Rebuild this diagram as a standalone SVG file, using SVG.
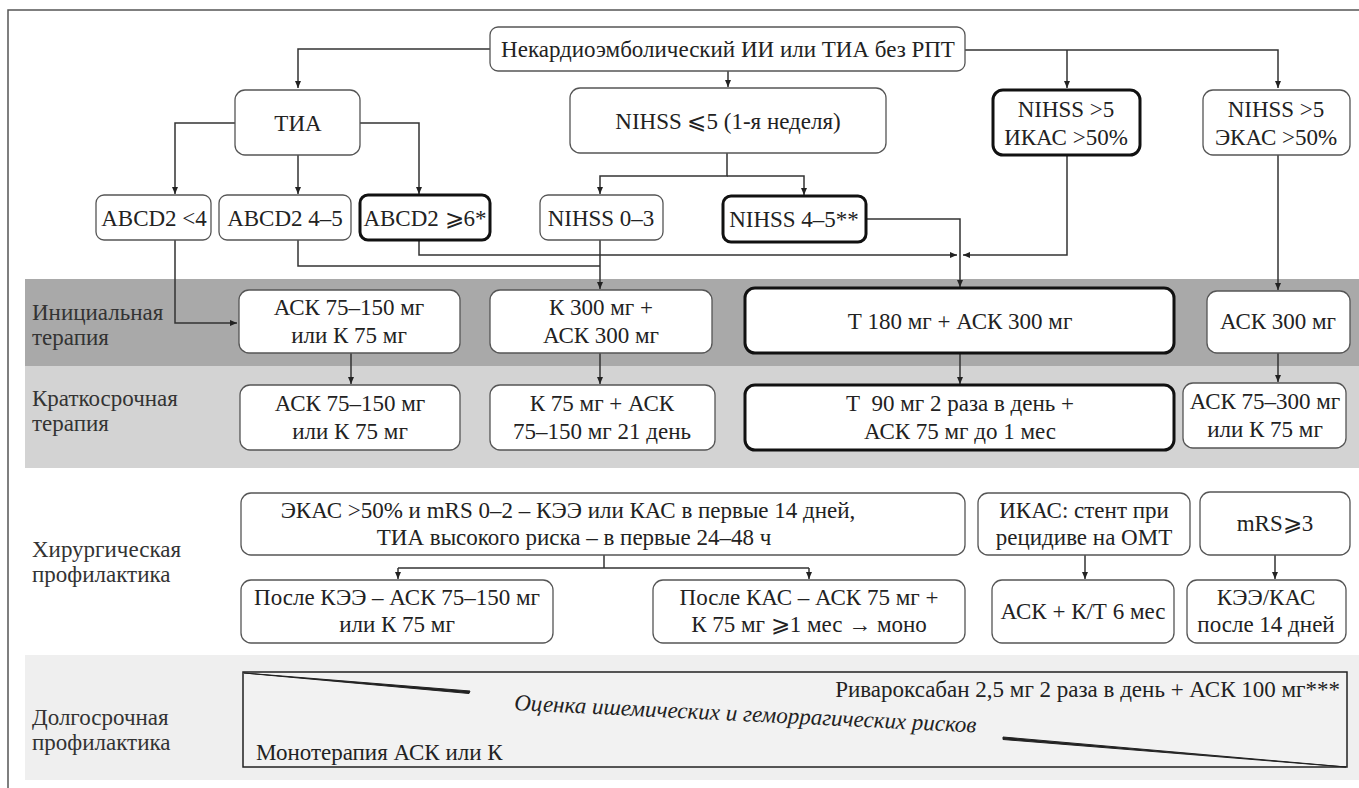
<svg xmlns="http://www.w3.org/2000/svg" width="1359" height="788" viewBox="0 0 1359 788">
<defs>
<marker id="a" markerWidth="8" markerHeight="8" refX="7" refY="4" orient="auto" markerUnits="userSpaceOnUse">
<path d="M0,1 L7,4 L0,7 Z" fill="#222"/>
</marker>
</defs>
<rect width="1359" height="788" fill="#fff"/>
<path d="M8,788 V10 H1359" fill="none" stroke="#555" stroke-width="1.5"/>
<rect x="25" y="279" width="1334" height="87" fill="#a9a9a9"/>
<rect x="25" y="366" width="1334" height="102" fill="#d3d3d3"/>
<rect x="25" y="655" width="1334" height="125" fill="#efefef"/>
<g id="labels" font-family="Liberation Serif" font-size="23" fill="#333">
<text x="32" y="320">Инициальная</text>
<text x="32" y="345">терапия</text>
<text x="32" y="406">Краткосрочная</text>
<text x="32" y="431">терапия</text>
<text x="32" y="557">Хирургическая</text>
<text x="32" y="582">профилактика</text>
<text x="32" y="725">Долгосрочная</text>
<text x="32" y="750">профилактика</text>
</g>
<g id="connectors" fill="none" stroke="#333" stroke-width="1.5">
<g marker-end="url(#a)">
<path d="M490,49 H298 V88"/>
<path d="M965,50 H1278 V88"/>
<path d="M1067,50 V88"/>
<path d="M728,71 V87"/>
<path d="M235,123 H175 V194"/>
<path d="M360,123 H419 V194"/>
<path d="M298,155 V194"/>
<path d="M727,153 V176 H600 V194"/>
<path d="M727,176 H804 V195"/>
<path d="M175,240 V323 H237"/>
<path d="M600,240 V289"/>
<path d="M419,240 V255 H957"/>
<path d="M1067,155 V255 H963"/>
<path d="M866,219 H960 V287"/>
<path d="M1278,155 V290"/>
<path d="M351,353 V384"/>
<path d="M600,353 V384"/>
<path d="M960,353 V384"/>
<path d="M1278,353 V382"/>
<path d="M398,568 V579"/>
<path d="M809,568 V579"/>
<path d="M1085,555 V579"/>
<path d="M1275,555 V579"/>
</g>
<path d="M298,240 V266 H600"/>
<path d="M604,555 V568"/>
<path d="M398,568 H809"/>
</g>
<g id="nodes" font-family="Liberation Serif" font-size="23" text-anchor="middle">
<g id="boxes-normal" fill="#fff" stroke="#555" stroke-width="1.3">
<rect id="r-root" x="490" y="27" width="475" height="44" rx="8"/>
<rect id="r-tia" x="235" y="90" width="125" height="65" rx="10"/>
<rect id="r-nihss5" x="570" y="88" width="316" height="65" rx="10"/>
<rect id="r-ekas" x="1203" y="90" width="147" height="65" rx="10"/>
<rect id="r-abcd1" x="96" y="195" width="115" height="45" rx="8"/>
<rect id="r-abcd2" x="219" y="195" width="132" height="45" rx="8"/>
<rect id="r-nihss03" x="540" y="195" width="123" height="45" rx="8"/>
<rect id="r-i1" x="239" y="290" width="221" height="63" rx="10"/>
<rect id="r-i2" x="490" y="290" width="222" height="63" rx="10"/>
<rect id="r-i4" x="1207" y="291" width="143" height="62" rx="10"/>
<rect id="r-s1" x="240" y="385" width="220" height="65" rx="10"/>
<rect id="r-s2" x="490" y="385" width="225" height="65" rx="10"/>
<rect id="r-s4" x="1183" y="383" width="163" height="65" rx="10"/>
<rect id="r-surg" x="241" y="493" width="724" height="62" rx="10"/>
<rect id="r-stent" x="978" y="493" width="212" height="62" rx="10"/>
<rect id="r-mrs" x="1200" y="492" width="150" height="63" rx="10"/>
<rect id="r-kee" x="241" y="580" width="312" height="63" rx="10"/>
<rect id="r-kas" x="653" y="580" width="312" height="63" rx="10"/>
<rect id="r-askkt" x="992" y="580" width="182" height="63" rx="10"/>
<rect id="r-keekas" x="1187" y="580" width="159" height="63" rx="10"/>
</g>
<g id="boxes-bold" fill="#fff" stroke="#111" stroke-width="3">
<rect id="r-ikas" x="993" y="90" width="147" height="65" rx="10"/>
<rect id="r-abcd3" x="360" y="195" width="130" height="45" rx="8"/>
<rect id="r-nihss45" x="723" y="196" width="143" height="46" rx="8"/>
<rect id="r-i3" x="745" y="288" width="429" height="65" rx="10"/>
<rect id="r-s3" x="745" y="385" width="429" height="65" rx="10"/>
</g>
<g id="node-texts" fill="#222">
<g id="n-root"><text x="728" y="57">Некардиоэмболический ИИ или ТИА без РПТ</text></g>
<g id="n-tia"><text x="298" y="131">ТИА</text></g>
<g id="n-nihss5"><text x="728" y="129">NIHSS ⩽5 (1-я неделя)</text></g>
<g id="n-ikas"><text x="1066" y="117">NIHSS &gt;5</text><text x="1066" y="145">ИКАС &gt;50%</text></g>
<g id="n-ekas"><text x="1276" y="117">NIHSS &gt;5</text><text x="1276" y="145">ЭКАС &gt;50%</text></g>
<g id="n-abcd1"><text x="154" y="226">ABCD2 &lt;4</text></g>
<g id="n-abcd2"><text x="285" y="226">ABCD2 4–5</text></g>
<g id="n-abcd3"><text x="425" y="226">ABCD2 ⩾6*</text></g>
<g id="n-nihss03"><text x="601" y="226">NIHSS 0–3</text></g>
<g id="n-nihss45"><text x="794" y="227">NIHSS 4–5**</text></g>
<g id="n-i1"><text x="349" y="315">АСК 75–150 мг</text><text x="349" y="343">или К 75 мг</text></g>
<g id="n-i2"><text x="601" y="315">К 300 мг +</text><text x="601" y="343">АСК 300 мг</text></g>
<g id="n-i3"><text x="960" y="329">Т 180 мг + АСК 300 мг</text></g>
<g id="n-i4"><text x="1278" y="329">АСК 300 мг</text></g>
<g id="n-s1"><text x="350" y="411">АСК 75–150 мг</text><text x="350" y="439">или К 75 мг</text></g>
<g id="n-s2"><text x="602" y="411">К 75 мг + АСК</text><text x="602" y="439">75–150 мг 21 день</text></g>
<g id="n-s3"><text x="960" y="411" xml:space="preserve">Т  90 мг 2 раза в день +</text><text x="960" y="439">АСК 75 мг до 1 мес</text></g>
<g id="n-s4"><text x="1265" y="409">АСК 75–300 мг</text><text x="1265" y="437">или К 75 мг</text></g>
<g id="n-surg"><text x="568" y="518">ЭКАС &gt;50% и mRS 0–2 – КЭЭ или КАС в первые 14 дней,</text><text x="574" y="545">ТИА высокого риска – в первые 24–48 ч</text></g>
<g id="n-stent"><text x="1084" y="518">ИКАС: стент при</text><text x="1084" y="545">рецидиве на ОМТ</text></g>
<g id="n-mrs"><text x="1275" y="531">mRS⩾3</text></g>
<g id="n-kee"><text x="397" y="605">После КЭЭ – АСК 75–150 мг</text><text x="397" y="632">или К 75 мг</text></g>
<g id="n-kas"><text x="809" y="605">После КАС – АСК 75 мг +</text><text x="809" y="632">К 75 мг ⩾1 мес → моно</text></g>
<g id="n-askkt"><text x="1083" y="619">АСК + К/Т 6 мес</text></g>
<g id="n-keekas"><text x="1266" y="605">КЭЭ/КАС</text><text x="1266" y="632">после 14 дней</text></g>
</g>
</g>
<g id="n-long" font-family="Liberation Serif" font-size="23">
<rect x="243" y="672" width="1104" height="95" fill="#f2f2f2" stroke="#222" stroke-width="1.5"/>
<path d="M244,673 L470,691 L469,693.5 Z" fill="#222" stroke="#222" stroke-width="1"/>
<path d="M1346,767 L1003,737 L1003,739.5 Z" fill="#222" stroke="#222" stroke-width="1"/>
<text fill="#222" x="1340" y="697" text-anchor="end">Ривароксабан 2,5 мг 2 раза в день + АСК 100 мг***</text>
<text fill="#222" x="514" y="710" font-style="italic" transform="rotate(2.8 514 710)">Оценка ишемических и геморрагических рисков</text>
<text fill="#222" x="256" y="760">Монотерапия АСК или К</text>
</g>
</svg>
